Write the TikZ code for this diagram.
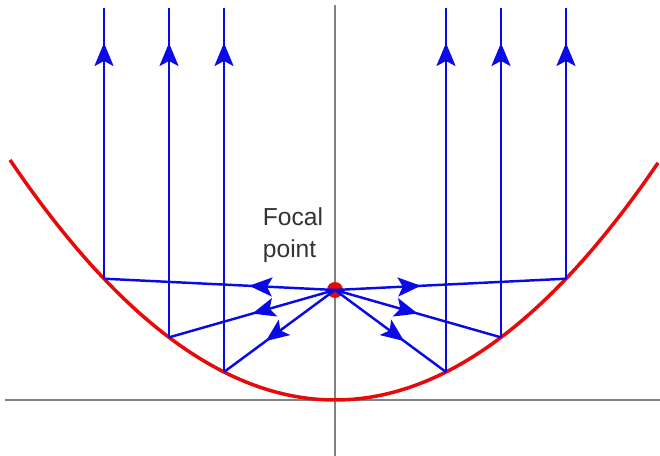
\documentclass[tikz,border=0pt]{standalone}
\usepackage{fontspec}
\setmainfont{Liberation Sans}
\usepackage{tikz}
\usetikzlibrary{arrows.meta, decorations.markings}
\definecolor{raybl}{RGB}{10,10,230}
\definecolor{mirred}{RGB}{230,10,10}
\definecolor{axgray}{RGB}{130,130,130}

\begin{document}
\begin{tikzpicture}[
  x=0.02cm, y=0.02cm,
  axis/.style={axgray, line width=1.2pt},
  mirror/.style={mirred, line width=2pt},
  ray/.style={raybl, line width=1.4pt},
  tipmark/.style={postaction={decorate}, decoration={markings,
    mark=at position #1 with {\arrow{Stealth[length=0.46cm, width=0.38cm, inset=0.1cm]}}}},
  every node/.style={font=\fontsize{14}{18}\selectfont}
]
\useasboundingbox (-335,-56) rectangle (325,400);

% ---- axes and mirror ----
\draw[axis] (-330,0) -- (325,0);
\draw[axis] (0,395) -- (0,-56);
\draw[mirror] plot[domain=-325:323, samples=80, smooth] (\x,{(\x/20)*(\x/22)});

% ---- focal point ----
\node[circle, fill=mirred, inner sep=0pt, minimum size=0.32cm] (F) at (0,110) {};
\node[text=black!80, align=left] (lbl) at (-42,165) {Focal\\point};

% ---- rays: focus -> mirror -> up ----
\foreach \n/\px in {1/-231, 2/-166, 3/-111, 4/111, 5/166, 6/231} {
  \coordinate (P\n) at (\px,{(\px/20)*(\px/22)});
  \coordinate (T\n) at (\px,392);
  \draw[ray, tipmark=1.72cm] (F.center) -- (P\n);
  \draw[ray, tipmark=-0.7cm] (P\n) -- (T\n);
}
\end{tikzpicture}
\end{document}
